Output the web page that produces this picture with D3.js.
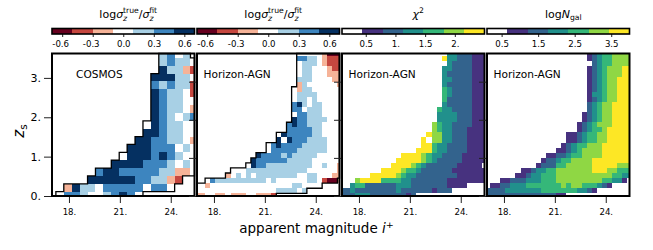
<!DOCTYPE html>
<html>
  <head>
    <meta charset="utf-8">
    <title>Photo-z scatter vs magnitude and redshift</title>
    <style>

body {
  margin: 0;
  background: #fff;
}
text {
  font-family: "DejaVu Sans", sans-serif;
  fill: #000;
}

    </style>
  </head>
  <body>
    <div id="chart"></div>
    <script src="https://cdnjs.cloudflare.com/ajax/libs/d3/7.8.5/d3.min.js"></script>
    <script>

    // every grid: one string per redshift row, bottom row first, one char per
    // magnitude column. digit = colour bin index, '.' = empty cell
    var cosmosSigma = [
      '..554..4565',
      '..2644.55555.55',
      '.....666666554421',
      '......566555554422',
      '........66665554.4',
      '..........6665654',
      '..........666555.4',
      '...........665544.2',
      '............66544',
      '.............6544',
      '.............654.45',
      '.............6544.2',
      '.............6544',
      '.............6544.1',
      '.............545441',
      '.............66644',
      '..............64421',
      '..............4544',
      '..............45.4'
    ];

    var horizonSigma = [
      '22..22.222..2221',
      '................4444.4',
      '..2................44',
      '...54444444444.4......44.1002',
      '......2.4.4.44444444..44...22',
      '..........444444444444......2',
      '...........655444444444..4..2',
      '...........655555544444',
      '............655554544444',
      '...............55555444444',
      '...............56555544444',
      '................6.65554444',
      '.................65555544',
      '..................5555544',
      '..................5655444',
      '...................6554444',
      '....................55444',
      '...................55.444',
      '...................564.44',
      '....................44.4',
      '....................4444',
      '....................244',
      '....................24......2',
      '....................444....22',
      '.....................44...222',
      '.....................44...211',
      '.....................444.2111',
      '....................5544.2111',
      '.........................2000'
    ];

    var horizonChi2 = [
      '222333222222212',
      '2232222222232222221222',
      '..34422222233322222221111',
      '...56666444433222222211111111',
      '......66666543322222222111111',
      '........666654432222221111111',
      '..........666654322222211111',
      '...........666665432222211111',
      '............66665433222211111',
      '...............66643322221111',
      '................6643322221111',
      '................6.55332221111',
      '.................655332221111',
      '..................54332221111',
      '..................54332222111',
      '...................3333222111',
      '...................3333222111',
      '...................4332222111',
      '....................322222111',
      '....................422222111',
      '....................432222111',
      '....................432222111',
      '....................322222111',
      '....................332222111',
      '....................322222111',
      '....................332222111',
      '.....................32222111',
      '....................633222111',
      '.....................33222111'
    ];

    var horizonNgal = [
      '2222222222222211',
      '2222333333344444443321',
      '.112233344444445455444321',
      '...1122233344455555555544331',
      '......11233444555555555554433',
      '.......1123344555555566655444',
      '..........1222445555566666555',
      '...........122344555566666666',
      '............11223445555666666',
      '..............112345555666666',
      '...............12344555666666',
      '................1123445566666',
      '................1123445566666',
      '..................12344566666',
      '..................12345556666',
      '...................1234556666',
      '...................1234556666',
      '....................234556666',
      '....................234556666',
      '....................123455666',
      '....................133455666',
      '....................123455666',
      '....................123455666',
      '....................123455666',
      '....................123455566',
      '....................123455566',
      '.....................23445555',
      '....................123445555',
      '....................123445555'
    ];

    // black contour: first and last row index covered in each column
    var cosmosHi = [null, 0, 1, 1, 1, 2, 3, 3, 4, 5, 6, 7, 9, 15, 18, 18, 18, 18, 17];
    var cosmosLo = [null, 0, 0, 0, 0, 0, 0, 0, 0, 0, 0, 0, 1, 1, 1, 1, 2, 3, 3];
    var horizonHi = [2, 2, 3, 3, 3, 3, 4, 5, 5, 5, 6, 7, 8, 8, 10, 10, 12, 12, 14, 21,
      28, 28, 28, 28, 28, 28, 28, 28, 28];
    var horizonLo = [0, 0, 0, 0, 0, 0, 0, 0, 0, 0, 0, 0, 0, 0, 0, 0, 1, 1, 1, 1,
      1, 1, 2, 2, 2, 3, 3, 3, 4];

    var sigmaColors = ['#67001f', '#c6473f', '#f6b398', '#ffffff', '#a8d0e5', '#3d85bf', '#053061'];
    var viridisColors = ['#ffffff', '#47327f', '#33638d', '#21908c', '#35b779', '#8fd744', '#fde725'];

    var sigmaTicks = [-0.6, -0.3, 0, 0.3, 0.6];
    var sigmaLabels = ['-0.6', '-0.3', '0.0', '0.3', '0.6'];
    var chi2Ticks = [0.5, 1, 1.5, 2];
    var chi2Labels = ['0.5', '1.', '1.5', '2.'];
    var ngalTicks = [0.5, 1.5, 2.5, 3.5];
    var ngalLabels = ['0.5', '1.5', '2.5', '3.5'];

    var magTicks = [18, 21, 24];
    var zTicks = [0, 1, 2, 3];

    var fineGrid = { x0: 16.877, dx: 0.3, z0: -0.0624, dz: 0.1332, zMax: 3.74 };
    var coarseGrid = { x0: 16.762, dx: 0.4667, z0: -0.091, dz: 0.2, zMax: 3.62 };

    var sigmaBar = { domain: [-0.7, 0.7], colors: sigmaColors, ticks: sigmaTicks, labels: sigmaLabels };
    var chi2Bar = { domain: [0.1, 2.5], colors: viridisColors, ticks: chi2Ticks, labels: chi2Labels };
    var ngalBar = { domain: [0.1, 4.0], colors: viridisColors, ticks: ngalTicks, labels: ngalLabels };

    var panels = [
      { left: 52, rows: cosmosSigma, grid: coarseGrid, bar: sigmaBar, name: 'COSMOS', nameX: 24,
        title: 'sigma', hi: cosmosHi, lo: cosmosLo },
      { left: 197, rows: horizonSigma, grid: fineGrid, bar: sigmaBar, name: 'Horizon-AGN', nameX: 6.5,
        title: 'sigma', hi: horizonHi, lo: horizonLo },
      { left: 342, rows: horizonChi2, grid: fineGrid, bar: chi2Bar, name: 'Horizon-AGN', nameX: 6.5,
        title: 'chi2' },
      { left: 487, rows: horizonNgal, grid: fineGrid, bar: ngalBar, name: 'Horizon-AGN', nameX: 6.5,
        title: 'ngal' }
    ];

    var panelW = 142.5, panelTop = 53.5, panelH = 142.5;
    var barTop = 28.5, barHeight = 5.5;

    var svg = d3.select('#chart').append('svg')
        .attr('width', 653)
        .attr('height', 250)
        .style('display', 'block');

    function styleAxis(g, size) {
      g.select('.domain').remove();
      g.selectAll('text').style('font-family', '"DejaVu Sans", sans-serif').style('font-size', size + 'px').attr('fill', '#000');
      g.selectAll('line').attr('stroke', '#222');
    }

    function drawTitle(sel, kind, cx) {
      var t = sel.append('text')
          .attr('x', cx)
          .attr('y', 17.5)
          .attr('text-anchor', 'middle')
          .style('font-size', '11px');
      function part(s, o) {
        o = o || {};
        var span = t.append('tspan').text(s);
        if (o.it) span.style('font-style', 'italic');
        if (o.small) span.style('font-size', '7.7px');
        if (o.dy) span.attr('dy', o.dy);
        if (o.dx) span.attr('dx', o.dx);
      }
      if (kind == 'sigma') {
        part('log');
        part('\u03c3', { it: true });
        part('z', { it: true, small: true, dy: 3 });
        part('true', { small: true, dy: -7.5, dx: -4.2 });
        part('/', { dy: 4.5 });
        part('\u03c3', { it: true });
        part('z', { it: true, small: true, dy: 3 });
        part('fit', { small: true, dy: -7.5, dx: -4.2 });
      } else if (kind == 'chi2') {
        part('\u03c7', { it: true });
        part('2', { small: true, dy: -4.5 });
      } else {
        part('log');
        part('N', { it: true });
        part('gal', { small: true, dy: 2.5 });
      }
    }

    panels.forEach(function(p) {
      var g = svg.append('g').attr('transform', 'translate(' + p.left + ',' + panelTop + ')');

      var x = d3.scaleLinear().domain([17, 25.4]).range([0, panelW]).clamp(true);
      var y = d3.scaleLinear().domain([0, p.grid.zMax]).range([panelH, 0]).clamp(true);
      var color = d3.scaleQuantize().domain(p.bar.domain).range(p.bar.colors);
      var binSize = (p.bar.domain[1] - p.bar.domain[0]) / p.bar.colors.length;

      function xEdge(k) { return x(p.grid.x0 + k * p.grid.dx); }
      function zEdge(r) { return y(p.grid.z0 + r * p.grid.dz); }

      var cells = [];
      p.rows.forEach(function(row, r) {
        row.split('').forEach(function(ch, c) {
          if (ch == '.') return;
          cells.push({ r: r, c: c, value: p.bar.domain[0] + (+ch + 0.5) * binSize });
        });
      });

      g.selectAll('rect.cell')
          .data(cells)
        .enter().append('rect')
          .attr('class', 'cell')
          .attr('x', function(d) { return xEdge(d.c); })
          .attr('y', function(d) { return zEdge(d.r + 1); })
          .attr('width', function(d) { return xEdge(d.c + 1) - xEdge(d.c); })
          .attr('height', function(d) { return zEdge(d.r) - zEdge(d.r + 1); })
          .style('fill', function(d) { return color(d.value); })
          .style('shape-rendering', 'crispEdges');

      if (p.hi) {
        var pts = [];
        p.hi.forEach(function(h, k) {
          if (h === null) return;
          pts.push([xEdge(k), zEdge(h + 1)], [xEdge(k + 1), zEdge(h + 1)]);
        });
        p.lo.map(function(l, k) { return [l, k]; }).reverse().forEach(function(d) {
          if (d[0] === null) return;
          pts.push([xEdge(d[1] + 1), zEdge(d[0])], [xEdge(d[1]), zEdge(d[0])]);
        });
        g.append('path')
            .attr('d', d3.line()(pts) + 'Z')
            .style('fill', 'none')
            .style('stroke', '#000')
            .style('stroke-width', 1.3);
      }

      g.append('text')
          .attr('x', p.nameX)
          .attr('y', 24)
          .style('font-size', '10.6px')
          .text(p.name);

      var xAxis = g.append('g')
          .attr('transform', 'translate(0,' + panelH + ')')
          .call(d3.axisBottom(x).tickValues(magTicks).tickFormat(function(d) { return d + '.'; }).tickSize(7).tickPadding(5.5));
      styleAxis(xAxis, 8.6);

      var yAxis = g.append('g')
          .call(d3.axisLeft(y).tickValues(zTicks).tickFormat(function(d) { return p.left == 52 ? d + '.' : ''; }).tickSize(8).tickPadding(3));
      styleAxis(yAxis, 11);

      g.append('rect')
          .attr('width', panelW)
          .attr('height', panelH)
          .style('fill', 'none')
          .style('stroke', '#000')
          .style('stroke-width', 2);

      // colour bar on top of the panel
      var bar = svg.append('g').attr('transform', 'translate(' + p.left + ',' + barTop + ')');
      var bx = d3.scaleLinear().domain(p.bar.domain).range([0, panelW]);
      bar.selectAll('rect')
          .data(p.bar.colors)
        .enter().append('rect')
          .attr('x', function(d) { return bx(color.invertExtent(d)[0]); })
          .attr('width', function(d) { return bx(color.invertExtent(d)[1]) - bx(color.invertExtent(d)[0]); })
          .attr('height', barHeight)
          .style('fill', function(d) { return d; })
          .style('shape-rendering', 'crispEdges');
      var barAxis = bar.append('g')
          .attr('transform', 'translate(0,' + barHeight + ')')
          .call(d3.axisBottom(bx).tickValues(p.bar.ticks)
            .tickFormat(function(d, i) { return p.bar.labels[i]; }).tickSize(3).tickPadding(3.5));
      styleAxis(barAxis, 8.6);
      barAxis.selectAll('text').attr('dx', function(d) { return d < 0 ? -2 : 0; });
      bar.append('rect')
          .attr('width', panelW)
          .attr('height', barHeight)
          .style('fill', 'none')
          .style('stroke', '#000')
          .style('stroke-width', 1.6);

      drawTitle(svg, p.title, p.left + panelW / 2 + 5);
    });

    var xLabel = svg.append('text')
        .attr('x', 316.5)
        .attr('y', 233)
        .attr('text-anchor', 'middle')
        .style('font-size', '13.5px');
    xLabel.append('tspan').text('apparent magnitude ');
    xLabel.append('tspan').text('i').style('font-style', 'italic');
    xLabel.append('tspan').text('+').attr('dy', -5).style('font-size', '9.5px');

    var yLabel = svg.append('text')
        .attr('transform', 'translate(24,131) rotate(-90)')
        .attr('text-anchor', 'middle')
        .style('font-size', '15px');
    yLabel.append('tspan').text('z').style('font-style', 'italic');
    yLabel.append('tspan').text('s').attr('dy', 2.5).style('font-size', '10.5px');

    </script>
  </body>
</html>
